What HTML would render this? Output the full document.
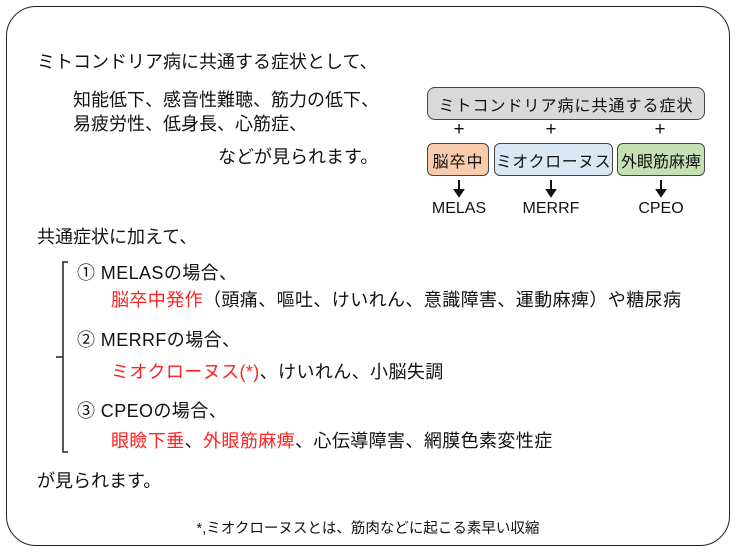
<!DOCTYPE html>
<html><head><meta charset="utf-8"><style>
body{margin:0;width:736px;height:552px;background:#fff;position:relative;font-family:"Liberation Sans","Noto Sans CJK JP",sans-serif;color:#111;overflow:hidden}
.frame{position:absolute;left:6px;top:6px;width:722px;height:538px;border:1.5px solid #222;border-radius:30px}
.t{position:absolute;font-size:18px;line-height:22px;white-space:nowrap}
.l{letter-spacing:0.4px}
.r{color:#f22}
.box{position:absolute;border:1px solid #444;border-radius:6px;font-size:16px;display:flex;align-items:center;justify-content:center;letter-spacing:1px;white-space:nowrap}
.c{position:absolute;font-size:16px;text-align:center;width:60px;line-height:18px}
</style></head><body>
<div class="frame"></div>
<div class="t" style="left:37px;top:51px">ミトコンドリア病に共通する症状として、</div>
<div class="t" style="left:73px;top:89px">知能低下、感音性難聴、筋力の低下、</div>
<div class="t" style="left:73px;top:113px">易疲労性、低身長、心筋症、</div>
<div class="t" style="left:218px;top:146px">などが見られます。</div>
<div class="t" style="left:37px;top:226px">共通症状に加えて、</div>
<div class="t l" style="left:77px;top:262px">① MELASの場合、</div>
<div class="t l" style="left:111px;top:289px"><span class="r">脳卒中発作</span>（頭痛、嘔吐、けいれん、意識障害、運動麻痺）や糖尿病</div>
<div class="t l" style="left:77px;top:329px">② MERRFの場合、</div>
<div class="t l" style="left:111px;top:361px"><span class="r">ミオクローヌス(*)</span>、けいれん、小脳失調</div>
<div class="t l" style="left:77px;top:400px">③ CPEOの場合、</div>
<div class="t l" style="left:111px;top:430px"><span class="r">眼瞼下垂</span>、<span class="r">外眼筋麻痺</span>、心伝導障害、網膜色素変性症</div>
<div class="t" style="left:37px;top:470px">が見られます。</div>
<div class="t" style="left:0;width:736px;text-align:center;top:518px;font-size:14.5px">*,ミオクローヌスとは、筋肉などに起こる素早い収縮</div>
<svg style="position:absolute;left:0;top:0" width="736" height="552">
<path d="M68 262 H63 V452 H68 M63 357 H56" fill="none" stroke="#222" stroke-width="1.5"/>
<g stroke="#111" stroke-width="2" fill="#111">
<line x1="459" y1="180" x2="459" y2="192"/><path d="M455 190 L463 190 L459 196Z"/>
<line x1="551" y1="180" x2="551" y2="192"/><path d="M547 190 L555 190 L551 196Z"/>
<line x1="661" y1="180" x2="661" y2="192"/><path d="M657 190 L665 190 L661 196Z"/>
</g>
</svg>
<div class="box" style="left:427px;top:87px;width:276px;height:31px;background:#d9d9d9;border-radius:8px;font-size:16px">ミトコンドリア病に共通する症状</div>
<div class="c" style="left:429px;top:121px;font-size:19px">+</div>
<div class="c" style="left:521px;top:121px;font-size:19px">+</div>
<div class="c" style="left:630px;top:121px;font-size:19px">+</div>
<div class="box" style="left:427px;top:143px;width:60px;height:31px;background:#f8cbad">脳卒中</div>
<div class="box" style="left:494px;top:143px;width:117px;height:31px;background:#dae8f5;letter-spacing:0.5px">ミオクローヌス</div>
<div class="box" style="left:617px;top:143px;width:86px;height:31px;background:#c5e0b4;letter-spacing:0">外眼筋麻痺</div>
<div class="c" style="left:429px;top:200px">MELAS</div>
<div class="c" style="left:521px;top:200px">MERRF</div>
<div class="c" style="left:631px;top:200px">CPEO</div>
</body></html>
